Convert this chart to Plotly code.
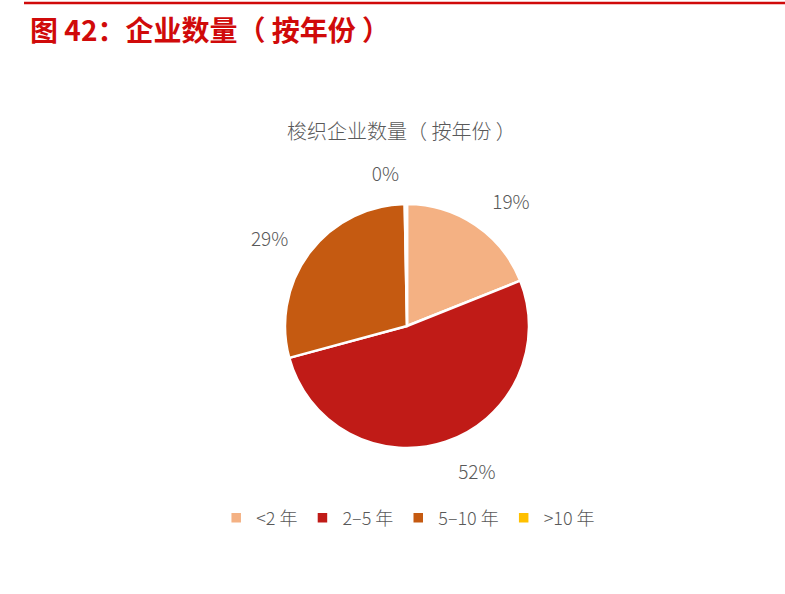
import plotly.graph_objects as go

# 梭织企业数量（按年份）
categories = ["<2 年", "2–5 年", "5–10 年", ">10 年"]
shares = [19, 52, 29, 0.3]
colors = ["#F4B183", "#C01B17", "#C55A11", "#FFC000"]

W, H = 785, 594
RED = "#D00A0A"
GRAY = "#595959"
CJK = "Noto Sans CJK SC"

# pie placement in pixels
cx, cy, r = 407, 326, 122
r_lab = 140  # invisible ring that only carries the outside labels


def _domain(rad):
    return dict(x=[(cx - rad) / W, (cx + rad) / W],
                y=[(H - cy - rad) / H, (H - cy + rad) / H])


fig = go.Figure()
# label-only ring (a bit larger, so the percentages sit further out like in Excel)
fig.add_trace(go.Pie(
    labels=categories,
    values=shares,
    sort=False,
    direction="clockwise",
    rotation=0,
    marker=dict(colors=["rgba(0,0,0,0)"] * len(shares), line=dict(width=0)),
    texttemplate="%{percent:.0%}",
    textposition="outside",
    textfont=dict(family=CJK, size=19, color=GRAY, weight=300),
    domain=_domain(r_lab),
    showlegend=False,
    hoverinfo="skip",
))
fig.add_trace(go.Pie(
    labels=categories,
    values=shares,
    sort=False,
    direction="clockwise",
    rotation=0,
    marker=dict(colors=colors, line=dict(color="white", width=2.5)),
    textinfo="none",
    domain=_domain(r),
    hoverinfo="label+percent",
))

fig.update_layout(
    width=W, height=H,
    margin=dict(l=0, r=0, t=0, b=0),
    paper_bgcolor="white",
    plot_bgcolor="white",
    showlegend=True,
    legend=dict(
        orientation="h",
        x=0.52, xanchor="center",
        y=(H - 518) / H, yanchor="middle",
        font=dict(family=CJK, size=18, color=GRAY, weight=300),
        itemwidth=30,
        traceorder="normal",
    ),
    shapes=[dict(
        type="line", xref="paper", yref="paper",
        x0=24 / W, x1=1, y0=1 - 3 / H, y1=1 - 3 / H,
        line=dict(color=RED, width=2.5),
    )],
    annotations=[
        dict(
            text="<b>图 42：企业数量（ 按年份 ）</b>",
            xref="paper", yref="paper", x=28 / W, y=1 - 29 / H,
            xanchor="left", yanchor="middle", showarrow=False,
            font=dict(family=CJK, size=28, color=RED),
        ),
        dict(
            text="梭织企业数量（ 按年份 ）",
            xref="paper", yref="paper", x=401 / W, y=1 - 130 / H,
            xanchor="center", yanchor="middle", showarrow=False,
            font=dict(family=CJK, size=20, color=GRAY, weight=300),
        ),
    ],
)

fig.write_html(
    "out.html",
    config={"displayModeBar": False},
    post_script="document.body.style.margin='0';",
)
